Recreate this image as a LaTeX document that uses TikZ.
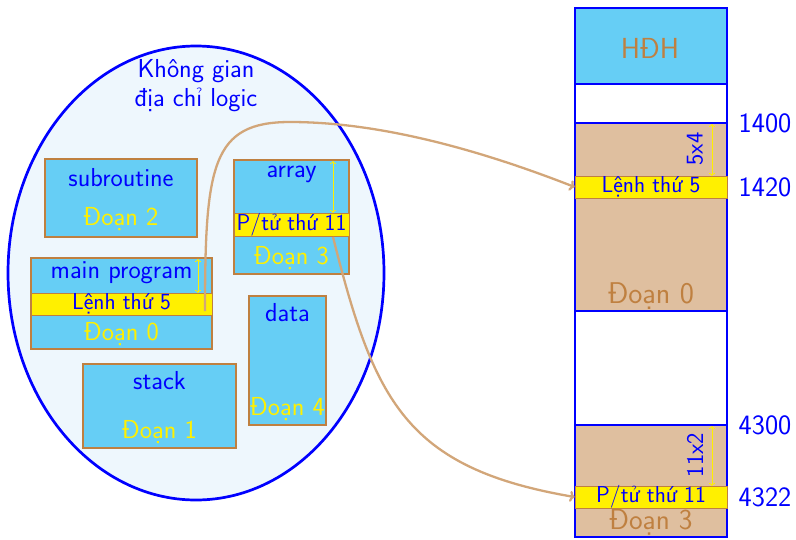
\documentclass[tikz,border=0pt]{standalone}
\usepackage{fontspec}
\usetikzlibrary{shapes.geometric,arrows.meta}
\definecolor{segcyan}{RGB}{102,206,245}
\definecolor{segbrown}{RGB}{191,128,64}
\definecolor{membrown}{RGB}{223,191,159}
\definecolor{curvebrown}{RGB}{210,166,121}
\definecolor{spacebg}{RGB}{238,247,253}
\definecolor{ylw}{RGB}{255,240,0}
\tikzset{
  seg/.style={draw=segbrown, line width=2.2pt, fill=segcyan, inner sep=0pt},
  band/.style={draw=segbrown, line width=0.8pt, fill=ylw, inner sep=0pt},
  memcell/.style={draw=blue, line width=2pt, inner sep=0pt, minimum width=152pt},
  lbl/.style={text=blue, font=\sffamily\fontsize{26}{29}\selectfont, inner sep=0pt},
  blbl/.style={text=blue, font=\sffamily\fontsize{23}{28}\selectfont, inner sep=0pt},
  ylbl/.style={text=ylw, font=\sffamily\fontsize{26}{29}\selectfont, inner sep=0pt},
  addr/.style={text=blue, font=\sffamily\fontsize{28}{30}\selectfont, inner sep=0pt},
  mlbl/.style={text=segbrown, font=\sffamily\fontsize{30}{32}\selectfont, inner sep=0pt},
  link/.style={draw=curvebrown, line width=2.3pt, -{To[length=5pt,width=11pt]}},
  meas/.style={draw=ylw, line width=0.8pt, {To[length=3pt,width=6pt]}-{To[length=3pt,width=6pt]}}
}
\begin{document}
\begin{tikzpicture}[x=1pt,y=-1pt]
\useasboundingbox (0,0) rectangle (796,539);
% logical address space
\node[ellipse, draw=blue, line width=2.7pt, fill=spacebg, minimum width=376pt, minimum height=454pt, inner sep=0pt] (space) at (196,273) {};
\node[lbl, align=center] (title) at (196,86) {Không gian\\địa chỉ logic};
% subroutine
\node[seg, minimum width=152pt, minimum height=78pt] (sub) at (121,198) {};
\node[lbl] (subt) at (121,178) {subroutine};
\node[ylbl] (subs) at (121,219) {Đoạn 2};
% array
\node[seg, minimum width=115pt, minimum height=114pt] (arr) at (291.5,217) {};
\node[band, minimum width=115pt, minimum height=23pt] (arrb) at (291.5,224.5) {};
\node[lbl] (arrt) at (291.5,174) {array};
\node[blbl] (arrbt) at (291.5,224.5) {P/tử thứ 11};
\node[ylbl] (arrs) at (291.5,258) {Đoạn 3};
\coordinate (arrtop) at (333,161);
\coordinate (arrbtop) at (333,213);
\draw[meas] (arrtop) -- (arrbtop);
% main program
\node[seg, minimum width=181pt, minimum height=91pt] (mainp) at (121.5,303.5) {};
\node[band, minimum width=181pt, minimum height=22pt] (mainb) at (121.5,304) {};
\node[lbl] (maint) at (121.5,273) {main program};
\node[blbl] (mainbt) at (121.5,304) {Lệnh thứ 5};
\node[ylbl] (mains) at (121.5,334) {Đoạn 0};
\coordinate (maintop) at (198,259);
\coordinate (mainbtop) at (198,293);
\draw[meas] (maintop) -- (mainbtop);
% data
\node[seg, minimum width=77pt, minimum height=129pt] (data) at (287.5,360.5) {};
\node[lbl] (datat) at (287.5,313) {data};
\node[ylbl] (datas) at (287.5,409) {Đoạn 4};
% stack
\node[seg, minimum width=153pt, minimum height=84pt] (stack) at (159.5,406) {};
\node[lbl] (stackt) at (159.5,381) {stack};
\node[ylbl] (stacks) at (159.5,432) {Đoạn 1};
% physical memory
\node[memcell, fill=segcyan, minimum height=76pt] (hdh) at (651,46) {};
\node[memcell, fill=white, minimum height=39pt] (free1) at (651,103.5) {};
\node[memcell, fill=membrown, minimum height=188pt] (m0) at (651,217) {};
\node[memcell, fill=white, minimum height=114pt] (free2) at (651,368) {};
\node[memcell, fill=membrown, minimum height=112pt] (m3) at (651,481) {};
\node[band, minimum width=152pt, minimum height=22pt] (mb0) at (651,187) {};
\node[band, minimum width=152pt, minimum height=22pt] (mb3) at (651,497) {};
\node[mlbl, font=\sffamily\fontsize{29}{32}\selectfont] (hdht) at (650,48) {HĐH};
\node[blbl] (mb0t) at (651,187) {Lệnh thứ 5};
\node[blbl, text height=14pt, text depth=3pt] (mb3t) at (651,497) {P/tử thứ 11};
\node[mlbl, anchor=base] (m0t) at (651,303) {Đoạn 0};
\node[mlbl, anchor=base, font=\sffamily\fontsize{29}{32}\selectfont, text height=18pt] (m3t) at (651,529) {Đoạn 3};
\node[blbl, font=\sffamily\fontsize{24}{28}\selectfont, rotate=90] (off0) at (695,149) {5x4};
\node[blbl, font=\sffamily\fontsize{24}{28}\selectfont, rotate=90] (off3) at (695,455) {11x2};
\coordinate (m0top) at (712,124);
\coordinate (m0b) at (712,176);
\coordinate (m3top) at (712,426);
\coordinate (m3b) at (712,486);
\draw[meas] (m0top) -- (m0b);
\draw[meas] (m3top) -- (m3b);
% addresses
\node[addr] (a1400) at (765,123) {1400};
\node[addr] (a1420) at (765,187) {1420};
\node[addr] (a4300) at (765,425) {4300};
\node[addr] (a4322) at (765,497) {4322};
% links
\coordinate (s1) at (205,311);
\coordinate (s2) at (333,237);
\draw[link] (s1) .. controls (205,165) and (212,122) .. (290,122)
  .. controls (380,122) and (480,150) .. (mb0.west);
\draw[link] (s2) .. controls (374,400) and (405,468) .. (mb3.west);
\end{tikzpicture}
\end{document}
